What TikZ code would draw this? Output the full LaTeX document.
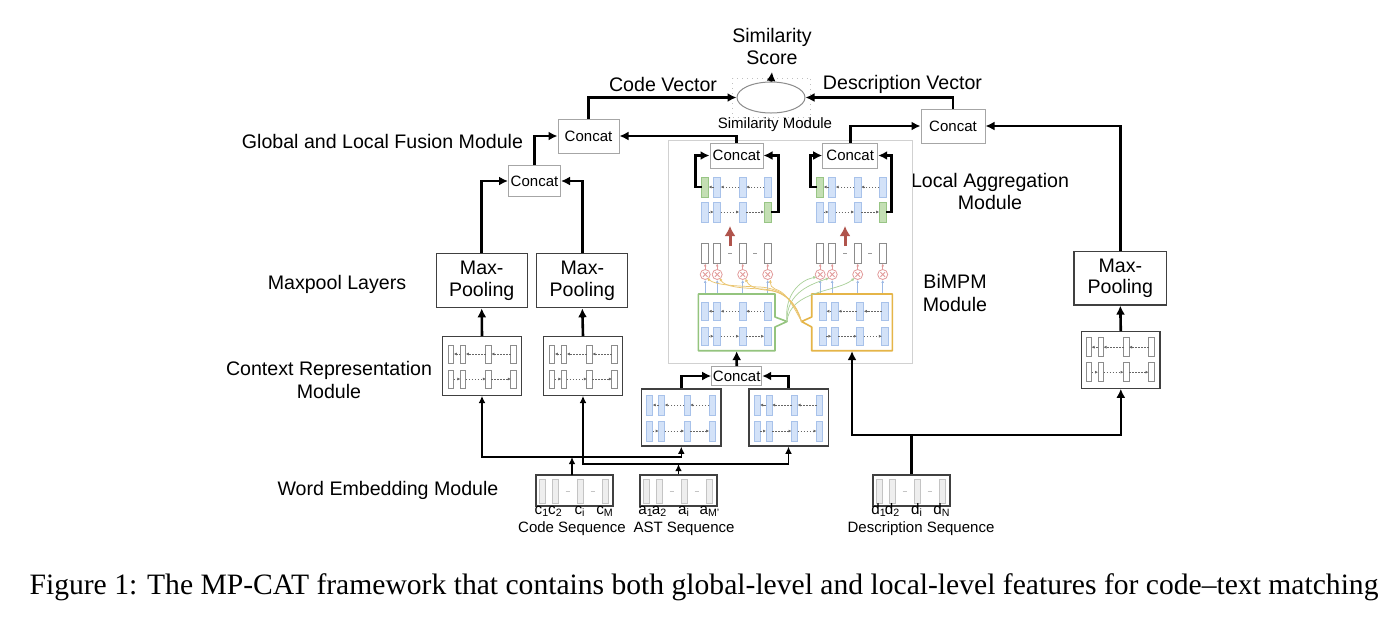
\documentclass[tikz,border=0pt]{standalone}
\usepackage{fontspec}
\setmainfont{Liberation Sans}
\newfontfamily\capfont{Liberation Serif}
\usetikzlibrary{arrows.meta,shapes.geometric}
\definecolor{bluef}{HTML}{D3E2F8}
\definecolor{blued}{HTML}{A8C2EA}
\definecolor{greenf}{HTML}{C4DFB4}
\definecolor{greend}{HTML}{98C585}
\definecolor{seqf}{HTML}{EEEEEE}
\definecolor{seqd}{HTML}{C4C4C4}
\definecolor{redarr}{HTML}{B0544C}
\definecolor{circc}{HTML}{E29A9A}
\definecolor{orng}{HTML}{E5B548}
\definecolor{grn}{HTML}{94C47E}
\definecolor{lblue}{HTML}{9DB9E4}
\tikzset{
  big/.style={font=\fontsize{9.8}{11.2}\selectfont},
  small/.style={font=\fontsize{7.5}{9}\selectfont},
  darkbox/.style={draw=black!75, line width=0.6pt, fill=white, inner sep=0pt},
  concatbox/.style={draw=black!35, line width=0.5pt, fill=white, small, inner sep=0pt},
  thickarr/.style={line width=1.3pt, -{Latex[length=4.5pt,width=4.5pt]}},
  thinarr/.style={line width=0.8pt, -{Latex[length=3.6pt,width=3.4pt]}},
  thickline/.style={line width=1.3pt},
  thinline/.style={line width=0.8pt},
  bluerect/.style={draw=blued, fill=bluef, line width=0.4pt},
  greenrect/.style={draw=greend, fill=greenf, line width=0.4pt},
  whiterect/.style={draw=black!45, fill=white, line width=0.4pt},
  seqrect/.style={draw=seqd, fill=seqf, line width=0.4pt},
  inl/.style={draw=black!60, line width=0.3pt, dash pattern=on 0.8pt off 0.7pt, -{Latex[length=1.5pt,width=1.5pt]}},
  circst/.style={draw=circc, line width=0.4pt},
  tinyarr/.style={line width=0.4pt, -{Latex[length=1.4pt,width=1.4pt]}},
  curve/.style={line width=0.35pt, -{Latex[length=1.6pt,width=1.6pt]}},
}
\newcommand\lstmrows[6]{%
  \foreach \o in {0,12,37.5,62.5}{%
    \draw[#6] (#1+\o,#2) rectangle ++(#5,#4);
    \draw[#6] (#1+\o,#3) rectangle ++(#5,#4);
  }%
  \foreach \a/\b in {0/12,12/37.5,37.5/62.5}{%
    \draw[inl] (#1+\b,#2+#4/2) -- (#1+\a+#5,#2+#4/2);
    \draw[inl] (#1+\a+#5,#3+#4/2) -- (#1+\b,#3+#4/2);
  }%
}
\newcommand\seqrects[1]{%
  \foreach \o in {3,16,41,66}{%
    \draw[seqrect] (#1+\o,479) rectangle ++(6,24);
  }%
  \draw[seqd, line width=0.4pt] (#1+29.5,491) -- (#1+33.5,491);
  \draw[seqd, line width=0.4pt] (#1+54.5,491) -- (#1+58.5,491);
}
\begin{document}
\begin{tikzpicture}[x=0.5pt,y=-0.5pt]
\useasboundingbox (0,0) rectangle (1393,617);
\fill[white] (0,0) rectangle (1393,617);

% ---------- Labels on the left ----------
\node[big] (lblfusion) at (382.5,141) {Global and Local Fusion Module};
\node[big] (lblmax) at (337,284) {Maxpool Layers};
\node[big, align=center] (lblctx) at (329,380) {Context Representation\\Module};
\node[big] (lblwem) at (388,490) {Word Embedding Module};
\node[big, align=center] (lblagg) at (990,191.5) {Local Aggregation\\Module};
\node[big, align=center] (lblbimpm) at (955,293) {BiMPM\\Module};

% ---------- Top: similarity ----------
\node[big, align=center] (score) at (772,46.5) {Similarity\\Score};
\node[draw=black!25, dotted, line width=0.5pt, minimum width=39pt, minimum height=19.5pt, inner sep=0pt] (simbox) at (771.7,97.5) {};
\node[ellipse, draw=black!45, line width=0.5pt, minimum width=34pt, minimum height=15.5pt, inner sep=0pt] (ell) at (771,97.5) {};
\node[small] (simlbl) at (775,125) {Similarity Module};
\node[big] (codevec) at (663,84) {Code Vector};
\node[big] (descvec) at (902.5,84) {Description Vector};

% ---------- Concat boxes ----------
\node[concatbox, minimum width=30.5pt, minimum height=17pt] (ctop) at (588.5,136) {Concat};
\node[concatbox, minimum width=32pt, minimum height=17pt] (cright) at (953,126) {Concat};
\node[concatbox, minimum width=26pt, minimum height=15.5pt] (csmall) at (534.5,181) {Concat};

% ---------- Max pooling ----------
\node[darkbox, big, align=center, minimum width=45.5pt, minimum height=27.2pt, font=\fontsize{9.8}{10.8}\selectfont] (mp1) at (481.7,280.5) {Max-\\Pooling};
\node[darkbox, big, align=center, minimum width=45.5pt, minimum height=27.2pt, font=\fontsize{9.8}{10.8}\selectfont] (mp2) at (582.3,280.5) {Max-\\Pooling};
\node[darkbox, big, align=center, minimum width=46.3pt, minimum height=26.7pt, font=\fontsize{9.8}{10.8}\selectfont] (mp3) at (1120.3,278.3) {Max-\\Pooling};

% ---------- Context boxes ----------
\node[darkbox, minimum width=39.7pt, minimum height=29.2pt] (ctx1) at (482,366) {};
\node[darkbox, minimum width=39.7pt, minimum height=29.2pt] (ctx2) at (583,366) {};
\node[darkbox, minimum width=39.2pt, minimum height=28.2pt] (ctx3) at (1120.8,360) {};
\lstmrows{448.3}{345}{370}{18}{5.5}{whiterect}
\lstmrows{549.3}{345}{370}{18}{5.5}{whiterect}
\lstmrows{1086}{337.7}{362.7}{19}{5.5}{whiterect}

% ---------- BiMPM module ----------
\node[draw=black!18, line width=0.5pt, minimum width=122pt, minimum height=111.5pt, inner sep=0pt] (bimpm) at (790,251.5) {};
\node[concatbox, minimum width=26.5pt, minimum height=12.5pt] (cL) at (736.5,155.5) {Concat};
\node[concatbox, minimum width=27.5pt, minimum height=12.5pt] (cR) at (850.2,155.5) {Concat};

% aggregation rows
\lstmrows{701.7}{177}{202}{20}{7}{bluerect}
\lstmrows{816.7}{177}{202}{20}{7}{bluerect}
\draw[greenrect] (701.7,177) rectangle ++(7,20);
\draw[greenrect] (764.2,202) rectangle ++(7,20);
\draw[greenrect] (816.7,177) rectangle ++(7,20);
\draw[greenrect] (879.2,202) rectangle ++(7,20);
\coordinate (aggL1) at (701.7,187);
\coordinate (aggL2) at (771.2,212);
\coordinate (aggR1) at (816.7,187);
\coordinate (aggR2) at (886.2,212);
\draw[thickarr] (aggL1) -- (695.7,187) |- (cL.west);
\draw[thickarr] (aggL2) -- (778.3,212) |- (cL.east);
\draw[thickarr] (aggR1) -- (810.7,187) |- (cR.west);
\draw[thickarr] (aggR2) -- (891.7,212) |- (cR.east);

% red arrows
\coordinate (redL0) at (730,246);
\coordinate (redL1) at (730,226);
\coordinate (redR0) at (845,246);
\coordinate (redR1) at (845,226);
\draw[redarr, line width=1.5pt, -{Latex[length=5pt,width=5.5pt]}] (redL0) -- (redL1);
\draw[redarr, line width=1.5pt, -{Latex[length=5pt,width=5.5pt]}] (redR0) -- (redR1);

% matching layer
\foreach \X in {701.7,816.7}{%
  \foreach \o in {0,12,37.5,62.5}{%
    \draw[whiterect] (\X+\o,243) rectangle ++(7,20);
    \draw[circst] (\X+\o+3.5,274.5) circle[radius=2.5pt];
    \draw[circst] (\X+\o+1.2,272.2) -- (\X+\o+5.8,276.8);
    \draw[circst] (\X+\o+1.2,276.8) -- (\X+\o+5.8,272.2);
    \draw[tinyarr, circc] (\X+\o+3.5,269.5) -- (\X+\o+3.5,263.6);
    \draw[tinyarr, lblue] (\X+\o+3.5,294) -- (\X+\o+3.5,280);
  }%
  \draw[black!40, line width=0.3pt] (\X+26.5,253) -- (\X+30,253);
  \draw[black!40, line width=0.3pt] (\X+51.5,253) -- (\X+55,253);
}

% green and orange boxes
\node[minimum width=38.35pt, minimum height=28.35pt, inner sep=0pt] (gbox) at (736.65,322.35) {};
\node[minimum width=40.3pt, minimum height=28.35pt, inner sep=0pt] (obox) at (852,322.35) {};
\draw[grn, line width=0.8pt, line join=round] (698.3,294) -- (775,294) -- (775,317) -- (787,321.5) -- (775,327) -- (775,350.7) -- (698.3,350.7) -- cycle;
\draw[orng, line width=0.8pt, line join=round] (811.7,294) -- (892.3,294) -- (892.3,350.7) -- (811.7,350.7) -- (811.7,327) -- (801.5,321.5) -- (811.7,317) -- cycle;
\lstmrows{701.7}{302}{327}{18.5}{7}{bluerect}
\lstmrows{819.3}{302}{327}{18.5}{7}{bluerect}

% attention curves
\coordinate (gtip) at (787,321.5);
\coordinate (otip) at (801.5,321.5);
\draw[curve, grn!80] (gtip) .. controls (784,295) and (800,280) .. (816.5,277);
\draw[curve, grn!80] (gtip) .. controls (786,292) and (812,284) .. (829,278);
\draw[curve, grn!80] (gtip) .. controls (790,290) and (838,292) .. (854.5,278);
\draw[curve, orng!80] (otip) .. controls (796,300) and (780,288) .. (760,287) .. controls (735,286) and (715,285) .. (707,278);
\draw[curve, orng!80] (otip) .. controls (794,298) and (780,290) .. (762,289) .. controls (740,288) and (725,287) .. (719.5,278);
\draw[curve, orng!80] (otip) .. controls (792,296) and (780,291) .. (765,290) .. controls (755,289) and (748,285) .. (745.5,278.5);
\draw[curve, orng!80] (otip) .. controls (790,300) and (785,292) .. (775,289) .. controls (772,288) and (770,285) .. (770.5,279.5);

% ---------- lower concat & BiLSTM boxes ----------
\node[concatbox, minimum width=25pt, minimum height=9.5pt] (clow) at (736.7,376) {Concat};
\node[darkbox, minimum width=39.6pt, minimum height=28.5pt] (boxA) at (681.3,417.5) {};
\node[darkbox, minimum width=39.6pt, minimum height=28.5pt] (boxB) at (788.5,417.5) {};
\lstmrows{646.7}{395}{421}{20}{6}{bluerect}
\lstmrows{754}{395}{421}{20}{6}{bluerect}

% ---------- sequences ----------
\node[darkbox, minimum width=38.5pt, minimum height=15.5pt] (codeseq) at (574.5,490.5) {};
\node[darkbox, minimum width=38.5pt, minimum height=15.5pt] (astseq) at (678.5,490.5) {};
\node[darkbox, minimum width=38.5pt, minimum height=15.5pt] (descseq) at (911.5,490.5) {};
\seqrects{536}
\seqrects{640}
\seqrects{873}
\tikzset{sub/.style={font=\fontsize{7.6}{8}\selectfont, inner sep=0pt, anchor=base}}
\node[sub] (c1) at (542,514) {c\textsubscript{1}};
\node[sub] (c2) at (555.5,514) {c\textsubscript{2}};
\node[sub] (ci) at (580,514) {c\textsubscript{i}};
\node[sub] (cM) at (605,514) {c\textsubscript{M}};
\node[sub] (a1) at (646,514) {a\textsubscript{1}};
\node[sub] (a2) at (659.5,514) {a\textsubscript{2}};
\node[sub] (ai) at (684,514) {a\textsubscript{i}};
\node[sub] (aM) at (710,514) {a\textsubscript{M'}};
\node[sub] (d1) at (879,514) {d\textsubscript{1}};
\node[sub] (d2) at (892.5,514) {d\textsubscript{2}};
\node[sub] (di) at (917,514) {d\textsubscript{i}};
\node[sub] (dN) at (942,514) {d\textsubscript{N}};
\node[small] (codeseqlbl) at (572,529) {Code Sequence};
\node[small] (astlbl) at (684,529) {AST Sequence};
\node[small] (desclbl) at (921,529) {Description Sequence};

% ---------- connectors ----------
\draw[thickarr] (ell.north) -- (score.south);
\draw[thickarr] (ctop.north) |- (ell.west);
\draw[thickarr] (cright.north) |- (ell.east);
\draw[thickarr] (csmall.north) |- (ctop.west);
\draw[thickarr] (cL.north) |- (ctop.east);
\draw[thickarr] (cR.north) |- (cright.west);
\draw[thickarr] (mp3.north) |- (cright.east);
\draw[thickarr] (mp1.north) |- (csmall.west);
\draw[thickarr] (mp2.north) |- (csmall.east);
\draw[thickarr] (ctx1.north) -- (mp1.south);
\draw[thickarr] (ctx2.north) -- (mp2.south);
\draw[thickarr] (ctx3.north) -- (mp3.south);
\draw[thickarr] (boxA.north) |- (clow.west);
\draw[thickarr] (boxB.north) |- (clow.east);
\draw[thickarr] (clow.north) -- (gbox.south);

\coordinate (cj) at (572,457);
\coordinate (aj) at (678.5,464);
\coordinate (dj) at (911.5,435);
\draw[thinarr] (572,475) -- (cj);
\draw[thinarr] (cj) -| (ctx1.south);
\draw[thinarr] (cj) -| (boxA.south);
\draw[thinarr] (astseq.north) -- (aj);
\draw[thinarr] (aj) -| (ctx2.south);
\draw[thinarr] (aj) -| (boxB.south);
\draw[thickline] (descseq.north) -- (dj);
\draw[thickarr] (dj) -| (obox.south);
\draw[thickarr] (dj) -| (ctx3.south);

% ---------- caption ----------
\node[font=\capfont\fontsize{14.8}{17}\selectfont] (caption) at (704,587) {Figure 1: The MP-CAT framework that contains both global-level and local-level features for code–text matching};
\end{tikzpicture}
\end{document}
